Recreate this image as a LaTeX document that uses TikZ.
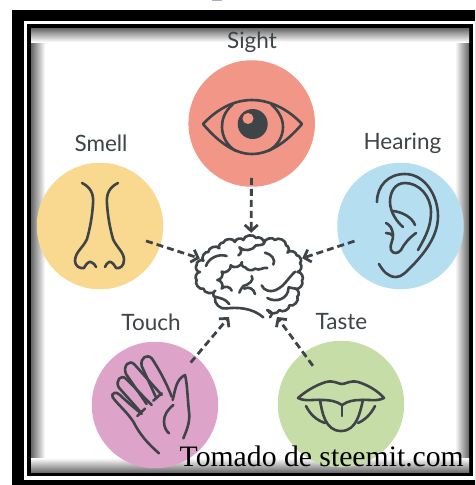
\documentclass[tikz,border=0pt]{standalone}
\usepackage{fontspec}
\setmainfont{Liberation Serif}
\newfontfamily\labelfont{Lato}
\usepackage{xcolor}
\usepackage{tikz}
\usetikzlibrary{arrows.meta,calc}
\definecolor{sensedark}{HTML}{3f4448}
\definecolor{sightred}{HTML}{F29688}
\definecolor{smellyellow}{HTML}{F9D98F}
\definecolor{hearingblue}{HTML}{B5DFF1}
\definecolor{touchpink}{HTML}{DDA3C9}
\definecolor{tastegreen}{HTML}{C6DDA8}
\definecolor{titleblue}{HTML}{A9B0C8}

\begin{document}
\begin{tikzpicture}[x=1pt, y=-1pt, line join=round,
  sense/.style={circle, inner sep=0pt, minimum size=126.5pt},
  sensename/.style={inner sep=0pt, text=sensedark, font=\labelfont\fontsize{22.5}{25}\selectfont},
  icon/.style={sensedark, line width=2.6pt, line cap=round},
  flow/.style={sensedark, line width=2.8pt, dash pattern=on 7pt off 4pt,
    -{Straight Barb[length=6pt,width=13pt]}}]

\useasboundingbox (0,0) rectangle (475,485);
\clip (0,0) rectangle (475,485);

% title remnant and the double frame
\fill[titleblue] (212,0) rectangle (222,1.2);
\fill[black] (12.3,9.5) rectangle (480,490);
\fill[white] (23.5,20.5) rectangle (480,479.5);
\fill[black] (27,23.5) rectangle (472.5,475.7);
\fill[white] (31,28) rectangle (469,472.7);

% soft inner shadow of the frame
\shade[left color=black!60, right color=white] (31,28) rectangle (45,472.7);
\shade[left color=white, right color=black!60] (455,28) rectangle (469,472.7);
\shade[top color=black!60, bottom color=white, shading angle=0] (31,28) rectangle (469,42);
\shade[top color=white, bottom color=black!60, shading angle=0] (31,458) rectangle (469,472.7);

% the five discs
\node[sense, fill=sightred] (sight) at (251.7,123.5) {};
\node[sense, fill=smellyellow] (smell) at (100,226) {};
\node[sense, fill=hearingblue] (hearing) at (400.5,226) {};
\node[sense, fill=touchpink] (touch) at (155,405) {};
\node[sense, fill=tastegreen] (taste) at (341,404) {};

% their names
\node[sensename] (sightname) at (252,42) {Sight};
\node[sensename] (smellname) at (101,143) {Smell};
\node[sensename] (hearingname) at (402.5,143.5) {Hearing};
\node[sensename] (touchname) at (151,322) {Touch};
\node[sensename] (tastename) at (341.5,322) {Taste};

% brain is only a place to aim at, its lines come below
\node[minimum width=102pt, minimum height=84pt, inner sep=0pt] (brain) at (251,275) {};
\coordinate (touchin) at (229,317);
\coordinate (tastein) at (277,317);

\draw[flow, shorten <=-9pt] (sight) -- (brain);
\draw[flow, shorten <=-15pt] (smell) -- (brain);
\draw[flow, shorten <=-15pt] (hearing) -- (brain);
\draw[flow, shorten <=-8pt] (touch) -- (touchin);
\draw[flow, shorten <=-16pt] (taste) -- (tastein);

% eye
\draw[icon] (203,124) .. controls (222,104) and (240,100) .. (252,100)
  .. controls (266,100) and (285,106) .. (302,124)
  .. controls (285,144) and (268,154) .. (252,154)
  .. controls (236,154) and (220,144) .. cycle;
\draw[icon] (233,104) .. controls (224,112) and (222,120) .. (222,127)
  .. controls (222,136) and (227,146) .. (236,151);
\draw[icon] (271,104) .. controls (280,112) and (283,120) .. (283,127)
  .. controls (283,136) and (278,146) .. (268,151);
\fill[sensedark] (252.7,124) circle (15);
\fill[sightred] (248,118.5) circle (5.5);

% nose
\draw[icon] (82,183) .. controls (90,187) and (94,193) .. (93,204)
  .. controls (92,218) and (90,228) .. (87,239)
  .. controls (83,248) and (75,252) .. (75,261)
  .. controls (75,266) and (80,269) .. (84,268)
  .. controls (86,264) and (89,261) .. (91,262)
  .. controls (94,263) and (95,265) .. (96,267);
\draw[icon] (118,183) .. controls (110,187) and (106,193) .. (107,204)
  .. controls (108,218) and (110,228) .. (113,239)
  .. controls (117,248) and (124,252) .. (124,260)
  .. controls (124,266) and (120,269) .. (116,268)
  .. controls (114,264) and (111,261) .. (109,262)
  .. controls (107,263) and (106,265) .. (105,267);

% ear
\draw[icon] (377,202) .. controls (377,186) and (388,174) .. (405,174)
  .. controls (425,174) and (438,196) .. (438,216)
  .. controls (438,236) and (425,252) .. (414,264)
  .. controls (406,272) and (402,277) .. (396,277)
  .. controls (388,277) and (383,271) .. (379,264);
\draw[icon] (418,250) .. controls (426,236) and (431,226) .. (431,212)
  .. controls (431,196) and (419,183) .. (405,183)
  .. controls (395,183) and (390,192) .. (390,202)
  .. controls (390,212) and (397,222) .. (403,227);
\draw[icon] (393,211) .. controls (402,212) and (412,217) .. (415,225);
\draw[icon] (416,233) .. controls (409,238) and (404,244) .. (401,250)
  .. controls (398,254) and (393,254) .. (391,250)
  .. controls (389,245) and (394,240) .. (393,234)
  .. controls (392,228) and (390,225) .. (386,223);
\draw[icon] (386,233) .. controls (389,233) and (392,234) .. (393,236);

% hand, read off in a third of a pixel
\begin{scope}[shift={(90,340)}, x=0.3333pt, y=-0.3333pt]
  \draw[icon] (207,340) .. controls (175,312) and (150,285) .. (130,245)
    .. controls (110,215) and (85,195) .. (68,172)
    .. controls (62,160) and (78,152) .. (90,165)
    .. controls (110,185) and (135,205) .. (155,222);
  \draw[icon] (150,214) -- (86,142)
    .. controls (76,122) and (92,102) .. (108,116) -- (185,195);
  \draw[icon] (170,192) -- (108,102)
    .. controls (98,78) and (118,56) .. (134,74) -- (215,165);
  \draw[icon] (197,170) -- (155,78)
    .. controls (150,52) and (172,40) .. (186,56)
    .. controls (205,85) and (228,125) .. (245,170);
  \draw[icon] (142,228) -- (165,206);
  \draw[icon] (190,182) -- (215,160);
  \draw[icon] (248,180) .. controls (256,150) and (258,118) .. (285,105)
    .. controls (292,130) and (292,170) .. (298,225)
    .. controls (298,255) and (288,275) .. (280,295);
  \draw[icon] (250,195) .. controls (232,210) and (222,225) .. (222,245)
    .. controls (222,262) and (230,274) .. (237,280);
\end{scope}

% mouth
\draw[icon] (298,398) .. controls (306,391) and (316,385) .. (326,382)
  .. controls (334,380) and (338,384) .. (342,384)
  .. controls (346,384) and (350,380) .. (358,382)
  .. controls (368,385) and (378,391) .. (384,398)
  .. controls (376,402) and (368,399) .. (360,400)
  .. controls (354,400) and (348,401) .. (342,405)
  .. controls (336,401) and (330,400) .. (322,400)
  .. controls (314,399) and (306,402) .. cycle;
\draw[icon] (320,400) .. controls (322,412) and (325,431) .. (341,431)
  .. controls (357,431) and (360,412) .. (363,400);
\draw[icon] (342,405) -- (342,416);
\draw[icon] (306,406) .. controls (310,414) and (316,420) .. (325,423);
\draw[icon] (375,406) .. controls (371,414) and (365,420) .. (358,423);

% brain, read off in a third of a pixel
\begin{scope}[shift={(180,230)}, x=0.3333pt, y=-0.3333pt, bend left=75]
  \draw[icon] (70,92) to (85,66) to (118,55) to (130,38) to (165,36) to (190,30)
    to (228,24) to (252,40) to (285,30) to (318,46) to (322,68) to (350,76)
    to (360,100) to (352,126) to (366,152) to (346,176) to (352,200) to (328,226)
    to (298,240) to (262,240);
  \draw[icon] (70,92) to[bend right=75] (50,105) to[bend right=75] (60,126)
    to[bend right=75] (50,150) to[bend right=75] (70,176) to[bend right=75] (106,182)
    to[bend right=75] (105,202) to[bend right=60] (140,235);
  \draw[icon] (140,235) .. controls (170,232) and (215,232) .. (250,262);
  \draw[icon] (262,240) .. controls (275,245) and (280,250) .. (270,262);
  \draw[icon] (155,182) to[bend right=70] (125,176) to[bend right=70] (112,150)
    to[bend right=70] (125,125) to[bend right=70] (152,106) to[bend right=70] (186,96)
    to[bend right=70] (196,112) to[bend right=50] (225,116);
  \draw[icon] (140,78) .. controls (115,70) and (85,85) .. (78,108);
  \draw[icon] (175,76) to[bend right=70] (178,52) to[bend right=50] (228,46)
    .. controls (240,46) and (250,44) .. (252,40);
  \draw[icon] (255,68) .. controls (275,72) and (288,90) .. (280,104);
  \draw[icon] (225,116) .. controls (240,124) and (250,110) .. (262,114);
  \draw[icon] (215,138) .. controls (225,150) and (205,165) .. (190,168)
    .. controls (185,175) and (180,180) .. (178,188);
  \draw[icon] (192,176) .. controls (208,168) and (222,178) .. (225,192);
  \draw[icon] (245,166) .. controls (250,182) and (275,190) .. (295,176)
    .. controls (312,168) and (320,150) .. (345,125);
  \draw[icon] (262,204) .. controls (285,218) and (325,210) .. (326,172)
    .. controls (332,174) and (340,174) .. (346,176);
  \draw[icon] (105,200) .. controls (120,205) and (135,205) .. (148,222);
\end{scope}

% source line over everything
\node[inner sep=0pt, anchor=base east, font=\fontsize{29.7}{32}\selectfont] (source) at (464,466.5) {Tomado de steemit.com};

\end{tikzpicture}
\end{document}
